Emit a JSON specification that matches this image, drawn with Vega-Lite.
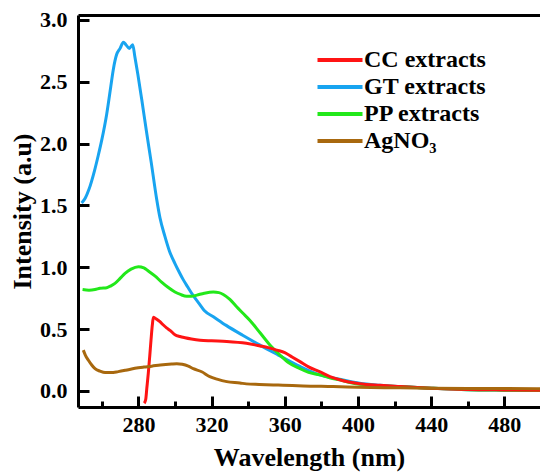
{
  "$schema": "https://vega.github.io/schema/vega-lite/v6.json",
  "autosize": "none",
  "padding": {"left": 78, "top": 15, "right": 0, "bottom": 68},
  "width": 462,
  "height": 392,
  "config": {
    "view": {"stroke": null},
    "font": "Liberation Serif"
  },
  "data": {"values": [
      {"wl": 249, "v": 1.52, "s": "GT extracts"}, {"wl": 251, "v": 1.56, "s": "GT extracts"}, {"wl": 253, "v": 1.63, "s": "GT extracts"}, {"wl": 256, "v": 1.78, "s": "GT extracts"}, {"wl": 258, "v": 1.9, "s": "GT extracts"}, {"wl": 260, "v": 2.03, "s": "GT extracts"}, {"wl": 262.7, "v": 2.24, "s": "GT extracts"}, {"wl": 264.9, "v": 2.46, "s": "GT extracts"}, {"wl": 266.3, "v": 2.6, "s": "GT extracts"}, {"wl": 268.1, "v": 2.72, "s": "GT extracts"}, {"wl": 270, "v": 2.77, "s": "GT extracts"}, {"wl": 271.8, "v": 2.82, "s": "GT extracts"}, {"wl": 273.2, "v": 2.8, "s": "GT extracts"}, {"wl": 275, "v": 2.77, "s": "GT extracts"}, {"wl": 276.9, "v": 2.8, "s": "GT extracts"}, {"wl": 278.1, "v": 2.7, "s": "GT extracts"}, {"wl": 279.7, "v": 2.56, "s": "GT extracts"}, {"wl": 281.8, "v": 2.36, "s": "GT extracts"}, {"wl": 284.3, "v": 2.11, "s": "GT extracts"}, {"wl": 287.1, "v": 1.84, "s": "GT extracts"}, {"wl": 290, "v": 1.55, "s": "GT extracts"}, {"wl": 291.8, "v": 1.4, "s": "GT extracts"}, {"wl": 294.5, "v": 1.25, "s": "GT extracts"}, {"wl": 297, "v": 1.13, "s": "GT extracts"}, {"wl": 300, "v": 1.03, "s": "GT extracts"}, {"wl": 302, "v": 0.97, "s": "GT extracts"}, {"wl": 304.5, "v": 0.9, "s": "GT extracts"}, {"wl": 307, "v": 0.84, "s": "GT extracts"}, {"wl": 310, "v": 0.77, "s": "GT extracts"}, {"wl": 313, "v": 0.71, "s": "GT extracts"}, {"wl": 316, "v": 0.65, "s": "GT extracts"}, {"wl": 321, "v": 0.6, "s": "GT extracts"}, {"wl": 328, "v": 0.53, "s": "GT extracts"}, {"wl": 337, "v": 0.45, "s": "GT extracts"}, {"wl": 346.5, "v": 0.37, "s": "GT extracts"}, {"wl": 356.5, "v": 0.29, "s": "GT extracts"}, {"wl": 368, "v": 0.2, "s": "GT extracts"}, {"wl": 379, "v": 0.13, "s": "GT extracts"}, {"wl": 390, "v": 0.095, "s": "GT extracts"}, {"wl": 401, "v": 0.062, "s": "GT extracts"}, {"wl": 412, "v": 0.046, "s": "GT extracts"}, {"wl": 423, "v": 0.035, "s": "GT extracts"}, {"wl": 440, "v": 0.022, "s": "GT extracts"}, {"wl": 460, "v": 0.01, "s": "GT extracts"}, {"wl": 480, "v": 0.006, "s": "GT extracts"}, {"wl": 499.5, "v": 0.004, "s": "GT extracts"},

      {"wl": 249.5, "v": 0.82, "s": "PP extracts"}, {"wl": 253, "v": 0.815, "s": "PP extracts"}, {"wl": 256.3, "v": 0.82, "s": "PP extracts"}, {"wl": 259, "v": 0.83, "s": "PP extracts"}, {"wl": 262.7, "v": 0.835, "s": "PP extracts"}, {"wl": 265, "v": 0.85, "s": "PP extracts"}, {"wl": 267.2, "v": 0.87, "s": "PP extracts"}, {"wl": 270, "v": 0.91, "s": "PP extracts"}, {"wl": 272.7, "v": 0.95, "s": "PP extracts"}, {"wl": 276, "v": 0.985, "s": "PP extracts"}, {"wl": 280, "v": 1.005, "s": "PP extracts"}, {"wl": 283, "v": 0.995, "s": "PP extracts"}, {"wl": 285.4, "v": 0.97, "s": "PP extracts"}, {"wl": 289, "v": 0.93, "s": "PP extracts"}, {"wl": 292.7, "v": 0.88, "s": "PP extracts"}, {"wl": 296, "v": 0.84, "s": "PP extracts"}, {"wl": 300, "v": 0.8, "s": "PP extracts"}, {"wl": 303, "v": 0.78, "s": "PP extracts"}, {"wl": 306.4, "v": 0.765, "s": "PP extracts"}, {"wl": 309, "v": 0.765, "s": "PP extracts"}, {"wl": 312, "v": 0.775, "s": "PP extracts"}, {"wl": 316, "v": 0.79, "s": "PP extracts"}, {"wl": 321, "v": 0.8, "s": "PP extracts"}, {"wl": 324, "v": 0.795, "s": "PP extracts"}, {"wl": 326.4, "v": 0.78, "s": "PP extracts"}, {"wl": 330, "v": 0.74, "s": "PP extracts"}, {"wl": 333.7, "v": 0.68, "s": "PP extracts"}, {"wl": 337, "v": 0.63, "s": "PP extracts"}, {"wl": 341, "v": 0.57, "s": "PP extracts"}, {"wl": 346.5, "v": 0.47, "s": "PP extracts"}, {"wl": 352, "v": 0.37, "s": "PP extracts"}, {"wl": 357.4, "v": 0.29, "s": "PP extracts"}, {"wl": 362, "v": 0.23, "s": "PP extracts"}, {"wl": 368.3, "v": 0.18, "s": "PP extracts"}, {"wl": 373, "v": 0.15, "s": "PP extracts"}, {"wl": 379.2, "v": 0.13, "s": "PP extracts"}, {"wl": 385, "v": 0.105, "s": "PP extracts"}, {"wl": 390, "v": 0.09, "s": "PP extracts"}, {"wl": 395, "v": 0.07, "s": "PP extracts"}, {"wl": 401, "v": 0.053, "s": "PP extracts"}, {"wl": 412, "v": 0.042, "s": "PP extracts"}, {"wl": 423, "v": 0.035, "s": "PP extracts"}, {"wl": 440, "v": 0.022, "s": "PP extracts"}, {"wl": 460, "v": 0.01, "s": "PP extracts"}, {"wl": 480, "v": 0.006, "s": "PP extracts"}, {"wl": 499.5, "v": 0.004, "s": "PP extracts"},

      {"wl": 283.2, "v": -0.1, "s": "CC extracts"}, {"wl": 284, "v": -0.07, "s": "CC extracts"}, {"wl": 284.6, "v": 0.02, "s": "CC extracts"}, {"wl": 285.4, "v": 0.14, "s": "CC extracts"}, {"wl": 286.2, "v": 0.28, "s": "CC extracts"}, {"wl": 286.9, "v": 0.41, "s": "CC extracts"}, {"wl": 287.6, "v": 0.53, "s": "CC extracts"}, {"wl": 288.2, "v": 0.596, "s": "CC extracts"}, {"wl": 289, "v": 0.59, "s": "CC extracts"}, {"wl": 290, "v": 0.58, "s": "CC extracts"}, {"wl": 291.8, "v": 0.56, "s": "CC extracts"}, {"wl": 293.5, "v": 0.535, "s": "CC extracts"}, {"wl": 295.4, "v": 0.51, "s": "CC extracts"}, {"wl": 297.3, "v": 0.49, "s": "CC extracts"}, {"wl": 300, "v": 0.455, "s": "CC extracts"}, {"wl": 302.7, "v": 0.44, "s": "CC extracts"}, {"wl": 305.5, "v": 0.43, "s": "CC extracts"}, {"wl": 309, "v": 0.42, "s": "CC extracts"}, {"wl": 313.7, "v": 0.41, "s": "CC extracts"}, {"wl": 320, "v": 0.405, "s": "CC extracts"}, {"wl": 328.3, "v": 0.4, "s": "CC extracts"}, {"wl": 339, "v": 0.385, "s": "CC extracts"}, {"wl": 346.5, "v": 0.364, "s": "CC extracts"}, {"wl": 351, "v": 0.35, "s": "CC extracts"}, {"wl": 355.6, "v": 0.33, "s": "CC extracts"}, {"wl": 360, "v": 0.31, "s": "CC extracts"}, {"wl": 364, "v": 0.275, "s": "CC extracts"}, {"wl": 368.3, "v": 0.237, "s": "CC extracts"}, {"wl": 373, "v": 0.195, "s": "CC extracts"}, {"wl": 379, "v": 0.156, "s": "CC extracts"}, {"wl": 384.7, "v": 0.116, "s": "CC extracts"}, {"wl": 390, "v": 0.09, "s": "CC extracts"}, {"wl": 395, "v": 0.072, "s": "CC extracts"}, {"wl": 401, "v": 0.058, "s": "CC extracts"}, {"wl": 412, "v": 0.045, "s": "CC extracts"}, {"wl": 423, "v": 0.035, "s": "CC extracts"}, {"wl": 440, "v": 0.022, "s": "CC extracts"}, {"wl": 460, "v": 0.012, "s": "CC extracts"}, {"wl": 480, "v": 0.008, "s": "CC extracts"}, {"wl": 499.5, "v": 0.005, "s": "CC extracts"},

      {"wl": 249.9, "v": 0.33, "s": "AgNO₃"}, {"wl": 251, "v": 0.29, "s": "AgNO₃"}, {"wl": 252.6, "v": 0.25, "s": "AgNO₃"}, {"wl": 254.5, "v": 0.21, "s": "AgNO₃"}, {"wl": 256.3, "v": 0.18, "s": "AgNO₃"}, {"wl": 259, "v": 0.16, "s": "AgNO₃"}, {"wl": 261.8, "v": 0.148, "s": "AgNO₃"}, {"wl": 265, "v": 0.148, "s": "AgNO₃"}, {"wl": 269, "v": 0.156, "s": "AgNO₃"}, {"wl": 273, "v": 0.167, "s": "AgNO₃"}, {"wl": 278.1, "v": 0.183, "s": "AgNO₃"}, {"wl": 283, "v": 0.193, "s": "AgNO₃"}, {"wl": 287.3, "v": 0.2, "s": "AgNO₃"}, {"wl": 292, "v": 0.21, "s": "AgNO₃"}, {"wl": 298.2, "v": 0.218, "s": "AgNO₃"}, {"wl": 301, "v": 0.22, "s": "AgNO₃"}, {"wl": 304, "v": 0.215, "s": "AgNO₃"}, {"wl": 307.3, "v": 0.2, "s": "AgNO₃"}, {"wl": 310, "v": 0.18, "s": "AgNO₃"}, {"wl": 314.6, "v": 0.155, "s": "AgNO₃"}, {"wl": 319, "v": 0.116, "s": "AgNO₃"}, {"wl": 323, "v": 0.095, "s": "AgNO₃"}, {"wl": 328.3, "v": 0.075, "s": "AgNO₃"}, {"wl": 335.5, "v": 0.064, "s": "AgNO₃"}, {"wl": 339, "v": 0.057, "s": "AgNO₃"}, {"wl": 346, "v": 0.052, "s": "AgNO₃"}, {"wl": 353.7, "v": 0.048, "s": "AgNO₃"}, {"wl": 359, "v": 0.046, "s": "AgNO₃"}, {"wl": 370, "v": 0.04, "s": "AgNO₃"}, {"wl": 386.5, "v": 0.035, "s": "AgNO₃"}, {"wl": 400, "v": 0.03, "s": "AgNO₃"}, {"wl": 423, "v": 0.025, "s": "AgNO₃"}, {"wl": 440, "v": 0.022, "s": "AgNO₃"}, {"wl": 460, "v": 0.02, "s": "AgNO₃"}, {"wl": 480, "v": 0.019, "s": "AgNO₃"}, {"wl": 499.5, "v": 0.018, "s": "AgNO₃"}
  ]},
  "encoding": {
    "y": {
      "field": "v",
      "type": "quantitative",
      "scale": {"domain": [-0.13, 3.04], "nice": false, "zero": false},
      "axis": {
        "zindex": 1,
        "title": "Intensity (a.u)",
        "titleFont": "Liberation Serif",
        "titleFontSize": 26,
        "titleFontWeight": "bold",
        "titleColor": "black",
        "titlePadding": 4,
        "values": [0, 0.5, 1, 1.5, 2, 2.5, 3],
        "format": ".1f",
        "labelFont": "Liberation Serif",
        "labelFontSize": 22,
        "labelFontWeight": "bold",
        "labelColor": "black",
        "labelPadding": 22,
        "tickSize": -11,
        "tickWidth": 3,
        "tickColor": "black",
        "domainWidth": 3,
        "domainColor": "black",
        "grid": false
      }
    }
  },
  "layer": [
    {
      "mark": {"type": "line", "strokeWidth": 3, "interpolate": "monotone"},
      "encoding": {
        "x": {
          "field": "wl",
          "type": "quantitative",
          "scale": {"domain": [247, 499.5], "nice": false, "zero": false},
          "axis": {
            "zindex": 1,
            "orient": "bottom",
            "title": "Wavelength (nm)",
            "titleFont": "Liberation Serif",
            "titleFontSize": 26,
            "titleFontWeight": "bold",
            "titleColor": "black",
            "titlePadding": 9,
            "values": [260, 280, 300, 320, 340, 360, 380, 400, 420, 440, 460, 480],
            "labelExpr": "datum.value % 40 == 0 ? datum.label : ''",
            "labelFont": "Liberation Serif",
            "labelFontSize": 22,
            "labelFontWeight": "bold",
            "labelColor": "black",
            "labelPadding": 18,
            "tickSize": {"condition": {"test": "datum.value % 40 == 0", "value": -11}, "value": -6},
            "tickWidth": 3,
            "tickColor": "black",
            "domainWidth": 3,
            "domainColor": "black",
            "grid": false
          }
        },
        "color": {
          "field": "s",
          "type": "nominal",
          "scale": {
            "domain": ["CC extracts", "GT extracts", "PP extracts", "AgNO₃"],
            "range": ["#FF1414", "#18A4F0", "#22E81A", "#A8680E"]
          },
          "legend": {
            "orient": "none",
            "legendX": 250,
            "legendY": 33,
            "title": null,
            "padding": 0,
            "symbolType": "M-3,0H3",
            "symbolSize": 225,
            "symbolStrokeWidth": 4,
            "labelFont": "Liberation Serif",
            "labelFontSize": 24,
            "labelFontWeight": "bold",
            "labelColor": "black",
            "labelOffset": 12,
            "labelLimit": 300,
            "rowPadding": 3
          }
        }
      }
    },
    {
      "mark": {"type": "line", "opacity": 0},
      "encoding": {
        "x": {
          "field": "wl",
          "type": "quantitative",
          "scale": {"domain": [247, 499.5], "nice": false, "zero": false},
          "axis": {
            "zindex": 1,
            "orient": "top",
            "title": null,
            "labels": false,
            "ticks": false,
            "domain": true,
            "domainWidth": 3,
            "domainColor": "black",
            "grid": false
          }
        },
        "detail": {"field": "s", "type": "nominal"}
      }
    }
  ],
  "resolve": {"axis": {"x": "independent"}}
}
